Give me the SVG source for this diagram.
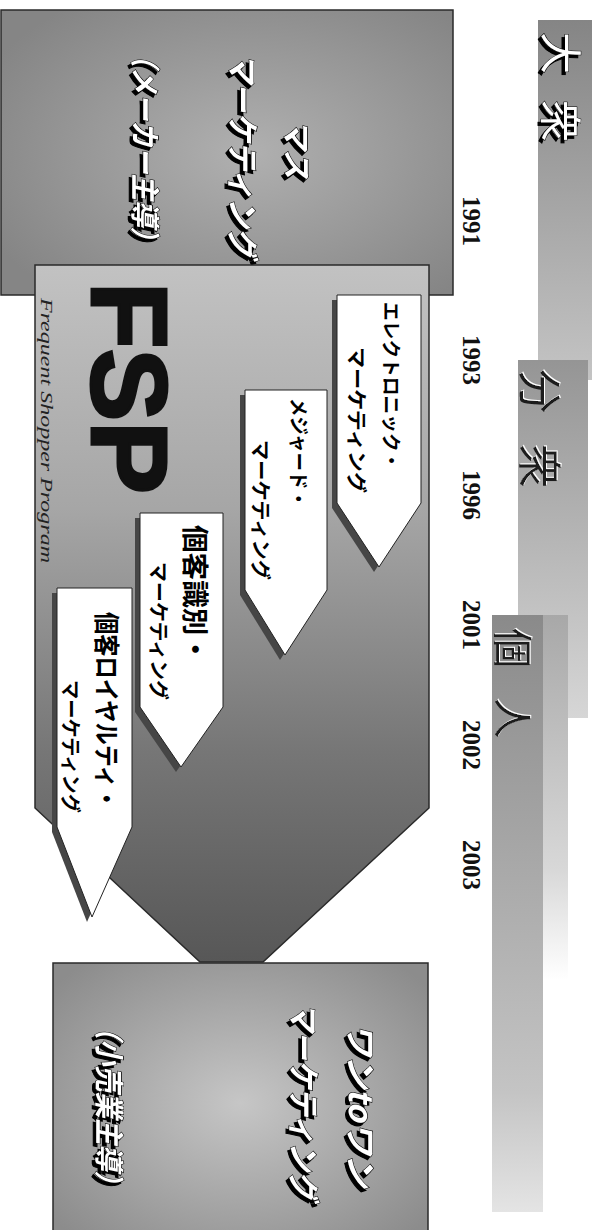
<svg xmlns="http://www.w3.org/2000/svg" width="597" height="1230" viewBox="0 0 597 1230">
<defs>
<style>
.yr{font-family:"Liberation Serif","Times New Roman",serif;font-weight:bold;font-size:25px;fill:#111;text-anchor:middle}
.bt{font-family:"Noto Sans CJK JP",sans-serif;}
.bw{fill:#fff;stroke:#000;stroke-width:1;paint-order:stroke;filter:url(#sh)}
.bd{fill:#1a1a1a;filter:url(#wsh)}
.lbl{font-family:"Noto Sans CJK JP",sans-serif;font-weight:bold;fill:#000}
.ttl{font-family:"Noto Sans CJK JP",sans-serif;font-weight:bold;font-style:italic;fill:#fff;stroke:#000;stroke-width:1.2;paint-order:stroke;filter:url(#sh);text-anchor:middle}
.arrow{fill:#fff;stroke:#222;stroke-width:1}
.ash{fill:#464646}
.box{stroke:#2a2a2a;stroke-width:1.5}
</style>
<filter id="sh" x="-10%" y="-20%" width="130%" height="150%">
<feOffset in="SourceAlpha" dx="2.5" dy="2.5" result="o"/>
<feFlood flood-color="#000"/>
<feComposite in2="o" operator="in" result="s"/>
<feMerge><feMergeNode in="s"/><feMergeNode in="SourceGraphic"/></feMerge>
</filter>
<filter id="wsh" x="-10%" y="-20%" width="130%" height="150%">
<feOffset in="SourceAlpha" dx="-1.5" dy="-1.5" result="o"/>
<feFlood flood-color="#fff"/>
<feComposite in2="o" operator="in" result="s"/>
<feMerge><feMergeNode in="s"/><feMergeNode in="SourceGraphic"/></feMerge>
</filter>
<radialGradient id="gMass" cx="0.5" cy="0.45" r="0.65">
<stop offset="0" stop-color="#b0b0b0"/><stop offset="1" stop-color="#858585"/>
</radialGradient>
<radialGradient id="gOne" cx="0.5" cy="0.5" r="0.65">
<stop offset="0" stop-color="#c6c6c6"/><stop offset="1" stop-color="#8c8c8c"/>
</radialGradient>
<linearGradient id="gFSP" x1="0" y1="0" x2="1" y2="0">
<stop offset="0" stop-color="#c2c2c2"/><stop offset="0.35" stop-color="#a6a6a6"/><stop offset="0.7" stop-color="#767676"/><stop offset="1" stop-color="#575757"/>
</linearGradient>
<linearGradient id="gB1" x1="0" y1="0" x2="1" y2="0">
<stop offset="0" stop-color="#858585"/><stop offset="1" stop-color="#c4c4c4"/>
</linearGradient>
<linearGradient id="gB2" x1="0" y1="0" x2="1" y2="0">
<stop offset="0" stop-color="#959595"/><stop offset="1" stop-color="#d6d6d6"/>
</linearGradient>
<linearGradient id="gB3" x1="0" y1="0" x2="1" y2="0">
<stop offset="0" stop-color="#8a8a8a"/><stop offset="0.8" stop-color="#c4c4c4"/><stop offset="1" stop-color="#e4e4e4"/>
</linearGradient>
<linearGradient id="gB3b" x1="0" y1="0" x2="1" y2="0">
<stop offset="0" stop-color="#a8a8a8"/><stop offset="0.7" stop-color="#d8d8d8"/><stop offset="1" stop-color="#ffffff"/>
</linearGradient>
</defs>
<rect width="597" height="1230" fill="#fff"/>
<g transform="translate(597,0) rotate(90)">
  <g id="band-taishu">
    <rect x="20" y="5" width="360" height="54" fill="url(#gB1)"/>
    <text class="bt bw" font-size="42" y="52" x="32 100">大衆</text>
  </g>
  <g id="band-bunshu">
    <rect x="360" y="9" width="358" height="70" fill="url(#gB2)"/>
    <text class="bt bd" font-size="44" y="74" x="369 444">分衆</text>
  </g>
  <g id="band-kojin">
    <rect x="615" y="29" width="365" height="26" fill="url(#gB3b)"/>
    <rect x="615" y="54" width="597" height="51" fill="url(#gB3)"/>
    <text class="bt bd" font-size="40" y="99" x="628 698">個人</text>
  </g>
  <g id="years">
    <text class="yr" x="221" y="134">1991</text>
    <text class="yr" x="360" y="134">1993</text>
    <text class="yr" x="495" y="134">1996</text>
    <text class="yr" x="625" y="134">2001</text>
    <text class="yr" x="745" y="134">2002</text>
    <text class="yr" x="865" y="134">2003</text>
  </g>
  <g id="mass">
    <rect class="box" x="10" y="144" width="285" height="452" fill="url(#gMass)"/>
    <text class="ttl" font-size="30" x="149" y="311">マス</text>
    <text class="ttl" font-size="32" x="155" y="366" textLength="204" lengthAdjust="spacingAndGlyphs">マーケティング</text>
    <text class="ttl" font-size="30" x="147" y="463" textLength="213" lengthAdjust="spacingAndGlyphs">（メーカー主導）</text>
  </g>
  <g id="fsp">
    <polygon class="box" points="265,168 808,168 962,334 962,397 808,562 265,562" fill="url(#gFSP)"/>
    <text x="282" y="505" font-family="Liberation Sans, Arial, sans-serif" font-weight="bold" font-size="107" fill="#111" stroke="#111" stroke-width="3" textLength="212" lengthAdjust="spacingAndGlyphs">FSP</text>
    <text x="298" y="556" font-family="Liberation Serif, Times New Roman, serif" font-style="italic" font-size="17" fill="#222" textLength="265" lengthAdjust="spacingAndGlyphs">Frequent Shopper Program</text>
  </g>
  <g id="electronic">
    <polygon class="ash" points="300,181 508,181 572,223 508,265 300,265"/>
    <polygon class="arrow" points="295,176 503,176 567,218 503,260 295,260"/>
    <text class="lbl" font-size="19" x="302" y="213" textLength="168" lengthAdjust="spacingAndGlyphs">エレクトロニック・</text>
    <text class="lbl" font-size="20" x="347" y="248" textLength="146" lengthAdjust="spacingAndGlyphs">マーケティング</text>
  </g>
  <g id="measured">
    <polygon class="ash" points="395,275 595,275 660,317 595,357 395,357"/>
    <polygon class="arrow" points="390,270 590,270 655,312 590,352 390,352"/>
    <text class="lbl" font-size="20" x="398" y="306" textLength="110" lengthAdjust="spacingAndGlyphs">メジャード・</text>
    <text class="lbl" font-size="20" x="440" y="344" textLength="140" lengthAdjust="spacingAndGlyphs">マーケティング</text>
  </g>
  <g id="identify">
    <polygon class="ash" points="518,379 712,379 772,421 712,462 518,462"/>
    <polygon class="arrow" points="513,374 707,374 767,416 707,457 513,457"/>
    <text class="lbl" font-size="27" x="525" y="412" textLength="138" lengthAdjust="spacingAndGlyphs">個客識別・</text>
    <text class="lbl" font-size="20" x="562" y="446" textLength="138" lengthAdjust="spacingAndGlyphs">マーケティング</text>
  </g>
  <g id="loyalty">
    <polygon class="ash" points="593,470 832,470 922,510 832,545 593,545"/>
    <polygon class="arrow" points="588,465 827,465 917,505 827,540 588,540"/>
    <text class="lbl" font-size="26" x="612" y="500" textLength="198" lengthAdjust="spacingAndGlyphs">個客ロイヤルティ・</text>
    <text class="lbl" font-size="20" x="680" y="534" textLength="133" lengthAdjust="spacingAndGlyphs">マーケティング</text>
  </g>
  <g id="one-to-one">
    <rect class="box" x="963" y="169" width="280" height="375" fill="url(#gOne)"/>
    <text class="ttl" font-size="32" x="1105" y="248" textLength="164" lengthAdjust="spacingAndGlyphs">ワンtoワン</text>
    <text class="ttl" font-size="32" x="1101" y="305" textLength="197" lengthAdjust="spacingAndGlyphs">マーケティング</text>
    <text class="ttl" font-size="30" x="1105" y="499" textLength="184" lengthAdjust="spacingAndGlyphs">（小売業主導）</text>
  </g>
  <g id="connectors"></g>
</g>
</svg>
